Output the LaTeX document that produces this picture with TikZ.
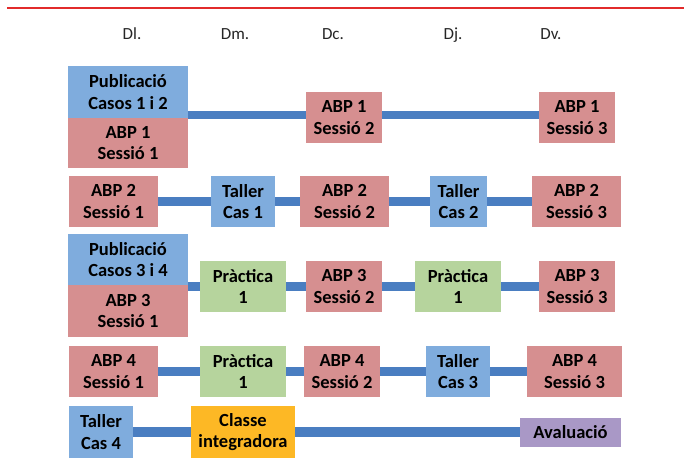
\documentclass[tikz,border=0pt]{standalone}
\usepackage{fontspec}
\setmainfont{Carlito}
\definecolor{topred}{HTML}{E22B2B}
\definecolor{linkblue}{HTML}{4A7EC1}
\definecolor{boxblue}{HTML}{7FACDD}
\definecolor{boxred}{HTML}{D68F90}
\definecolor{boxgreen}{HTML}{B6D49D}
\definecolor{boxorange}{HTML}{FDB825}
\definecolor{boxpurple}{HTML}{A998C6}

\begin{document}
\begin{tikzpicture}[x=1pt,y=-1pt,
    box/.style={fill=#1,font=\bfseries\fontsize{18.5}{21.5}\selectfont,align=center,
      inner sep=0pt,minimum height=51pt},
    link/.style={draw=linkblue,line width=8.5pt},
    day/.style={font=\fontsize{17}{21}\selectfont,text=black!85,anchor=base}]
\useasboundingbox (0,0) rectangle (684,474);
\draw[topred,line width=2pt] (7,8) -- (684,8);
% dies
\node[day] (dl) at (132,39) {Dl.};
\node[day] (dm) at (235,39) {Dm.};
\node[day] (dc) at (333,39) {Dc.};
\node[day] (dj) at (453,39) {Dj.};
\node[day] (dv) at (551,39) {Dv.};
% fila 1
\node[box=boxblue,minimum width=120pt,minimum height=52pt] (pub1) at (128,92) {Publicació\\Casos 1 i 2};
\node[box=boxred,minimum width=120pt,minimum height=50pt] (abp1s1) at (128,143) {ABP 1\\Sessió 1};
\node[box=boxred,minimum width=76pt] (abp1s2) at (344,117.5) {ABP 1\\Sessió 2};
\node[box=boxred,minimum width=76pt] (abp1s3) at (577,117.5) {ABP 1\\Sessió 3};
\draw[link] (abp1s2.west) ++(0,-2.5) coordinate (r1) -- (r1 -| pub1.east);
\draw[link] (abp1s2.east) ++(0,-2.5) coordinate (r1b) -- (r1b -| abp1s3.west);
% fila 2
\node[box=boxred,minimum width=89pt] (abp2s1) at (113.5,201.5) {ABP 2\\Sessió 1};
\node[box=boxblue,minimum width=64pt] (taller1) at (243,201.5) {Taller\\Cas 1};
\node[box=boxred,minimum width=89pt] (abp2s2) at (344.5,201.5) {ABP 2\\Sessió 2};
\node[box=boxblue,minimum width=57pt] (taller2) at (458.5,201.5) {Taller\\Cas 2};
\node[box=boxred,minimum width=89pt] (abp2s3) at (576.5,201.5) {ABP 2\\Sessió 3};
\draw[link] (abp2s1) -- (taller1) (taller1) -- (abp2s2) (abp2s2) -- (taller2) (taller2) -- (abp2s3);
% fila 3
\node[box=boxblue,minimum width=120pt] (pub2) at (128,259.5) {Publicació\\Casos 3 i 4};
\node[box=boxred,minimum width=120pt,minimum height=52pt] (abp3s1) at (128,311) {ABP 3\\Sessió 1};
\node[box=boxgreen,minimum width=86pt] (prac1a) at (243,286.5) {Pràctica\\1};
\node[box=boxred,minimum width=76pt] (abp3s2) at (344,286.5) {ABP 3\\Sessió 2};
\node[box=boxgreen,minimum width=86pt] (prac1b) at (458,286.5) {Pràctica\\1};
\node[box=boxred,minimum width=76pt] (abp3s3) at (577,286.5) {ABP 3\\Sessió 3};
\draw[link] (prac1a.west) -- (prac1a.west -| pub2.east);
\draw[link] (prac1a) -- (abp3s2) (abp3s2) -- (prac1b) (prac1b) -- (abp3s3);
% fila 4
\node[box=boxred,minimum width=89pt] (abp4s1) at (113.5,371.5) {ABP 4\\Sessió 1};
\node[box=boxgreen,minimum width=86pt] (prac2) at (243,371.5) {Pràctica\\1};
\node[box=boxred,minimum width=76pt] (abp4s2) at (342,371.5) {ABP 4\\Sessió 2};
\node[box=boxblue,minimum width=64pt] (taller3) at (458,371.5) {Taller\\Cas 3};
\node[box=boxred,minimum width=95pt] (abp4s3) at (574.5,371.5) {ABP 4\\Sessió 3};
\draw[link] (abp4s1) -- (prac2) (prac2) -- (abp4s2) (abp4s2) -- (taller3) (taller3) -- (abp4s3);
% fila 5
\node[box=boxblue,minimum width=64pt,minimum height=52pt] (taller4) at (101,432) {Taller\\Cas 4};
\node[box=boxorange,minimum width=104pt,minimum height=52pt] (classe) at (243,432) {Classe\\integradora};
\node[box=boxpurple,minimum width=101pt,minimum height=29pt] (aval) at (570.5,432) {Avaluació};
\draw[link,line width=10pt] (taller4) -- (classe) (classe) -- (aval);
\end{tikzpicture}
\end{document}
